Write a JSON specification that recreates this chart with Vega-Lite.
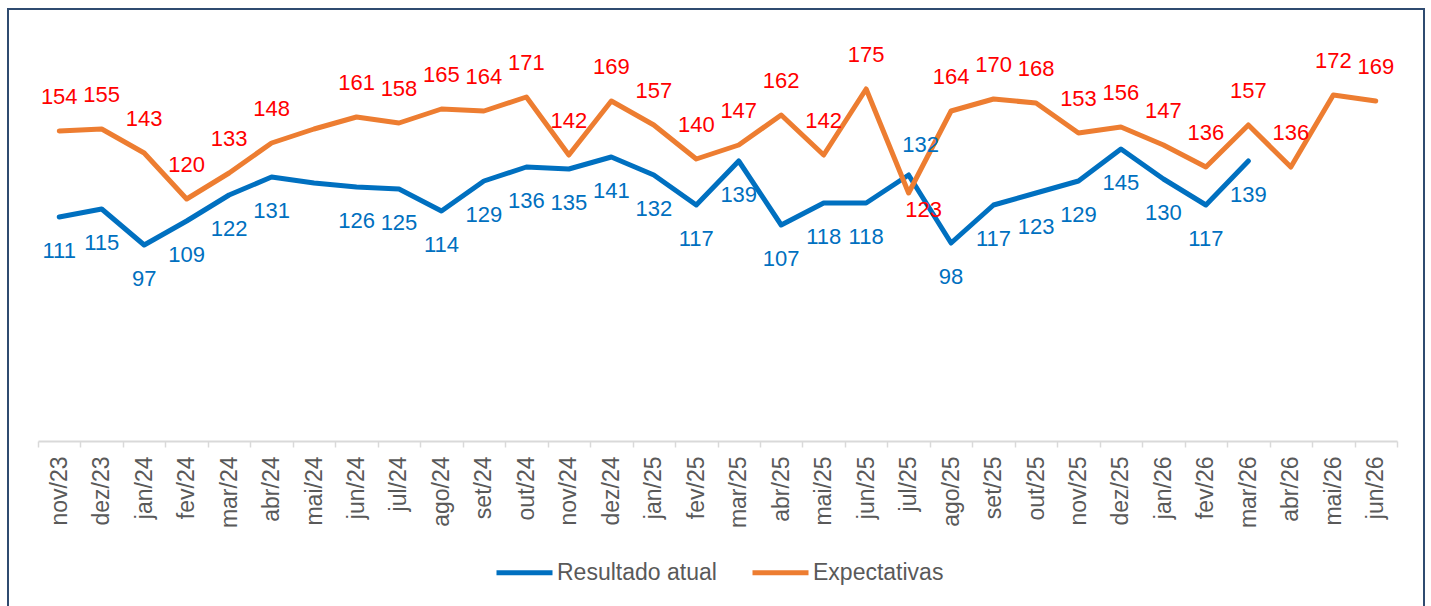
{
  "$schema": "https://vega.github.io/schema/vega-lite/v6.json",
  "width": 1416,
  "height": 600,
  "autosize": {"type": "none"},
  "padding": {"left": 8, "top": 9, "right": 7, "bottom": -3},
  "background": "white",
  "config": {
    "view": {"stroke": "#2F4B70", "strokeWidth": 2},
    "font": "Liberation Sans"
  },
  "data": {
    "values": [
      {"mes": "nov/23", "serie": "Resultado atual", "valor": 111}, {"mes": "nov/23", "serie": "Expectativas", "valor": 154},
      {"mes": "dez/23", "serie": "Resultado atual", "valor": 115}, {"mes": "dez/23", "serie": "Expectativas", "valor": 155},
      {"mes": "jan/24", "serie": "Resultado atual", "valor": 97}, {"mes": "jan/24", "serie": "Expectativas", "valor": 143},
      {"mes": "fev/24", "serie": "Resultado atual", "valor": 109}, {"mes": "fev/24", "serie": "Expectativas", "valor": 120},
      {"mes": "mar/24", "serie": "Resultado atual", "valor": 122}, {"mes": "mar/24", "serie": "Expectativas", "valor": 133},
      {"mes": "abr/24", "serie": "Resultado atual", "valor": 131}, {"mes": "abr/24", "serie": "Expectativas", "valor": 148},
      {"mes": "mai/24", "serie": "Resultado atual", "valor": 128}, {"mes": "mai/24", "serie": "Expectativas", "valor": 155},
      {"mes": "jun/24", "serie": "Resultado atual", "valor": 126}, {"mes": "jun/24", "serie": "Expectativas", "valor": 161},
      {"mes": "jul/24", "serie": "Resultado atual", "valor": 125}, {"mes": "jul/24", "serie": "Expectativas", "valor": 158},
      {"mes": "ago/24", "serie": "Resultado atual", "valor": 114}, {"mes": "ago/24", "serie": "Expectativas", "valor": 165},
      {"mes": "set/24", "serie": "Resultado atual", "valor": 129}, {"mes": "set/24", "serie": "Expectativas", "valor": 164},
      {"mes": "out/24", "serie": "Resultado atual", "valor": 136}, {"mes": "out/24", "serie": "Expectativas", "valor": 171},
      {"mes": "nov/24", "serie": "Resultado atual", "valor": 135}, {"mes": "nov/24", "serie": "Expectativas", "valor": 142},
      {"mes": "dez/24", "serie": "Resultado atual", "valor": 141}, {"mes": "dez/24", "serie": "Expectativas", "valor": 169},
      {"mes": "jan/25", "serie": "Resultado atual", "valor": 132}, {"mes": "jan/25", "serie": "Expectativas", "valor": 157},
      {"mes": "fev/25", "serie": "Resultado atual", "valor": 117}, {"mes": "fev/25", "serie": "Expectativas", "valor": 140},
      {"mes": "mar/25", "serie": "Resultado atual", "valor": 139}, {"mes": "mar/25", "serie": "Expectativas", "valor": 147},
      {"mes": "abr/25", "serie": "Resultado atual", "valor": 107}, {"mes": "abr/25", "serie": "Expectativas", "valor": 162},
      {"mes": "mai/25", "serie": "Resultado atual", "valor": 118}, {"mes": "mai/25", "serie": "Expectativas", "valor": 142},
      {"mes": "jun/25", "serie": "Resultado atual", "valor": 118}, {"mes": "jun/25", "serie": "Expectativas", "valor": 175},
      {"mes": "jul/25", "serie": "Resultado atual", "valor": 132}, {"mes": "jul/25", "serie": "Expectativas", "valor": 123},
      {"mes": "ago/25", "serie": "Resultado atual", "valor": 98}, {"mes": "ago/25", "serie": "Expectativas", "valor": 164},
      {"mes": "set/25", "serie": "Resultado atual", "valor": 117}, {"mes": "set/25", "serie": "Expectativas", "valor": 170},
      {"mes": "out/25", "serie": "Resultado atual", "valor": 123}, {"mes": "out/25", "serie": "Expectativas", "valor": 168},
      {"mes": "nov/25", "serie": "Resultado atual", "valor": 129}, {"mes": "nov/25", "serie": "Expectativas", "valor": 153},
      {"mes": "dez/25", "serie": "Resultado atual", "valor": 145}, {"mes": "dez/25", "serie": "Expectativas", "valor": 156},
      {"mes": "jan/26", "serie": "Resultado atual", "valor": 130}, {"mes": "jan/26", "serie": "Expectativas", "valor": 147},
      {"mes": "fev/26", "serie": "Resultado atual", "valor": 117}, {"mes": "fev/26", "serie": "Expectativas", "valor": 136},
      {"mes": "mar/26", "serie": "Resultado atual", "valor": 139}, {"mes": "mar/26", "serie": "Expectativas", "valor": 157},
      {"mes": "abr/26", "serie": "Expectativas", "valor": 136},
      {"mes": "mai/26", "serie": "Expectativas", "valor": 172},
      {"mes": "jun/26", "serie": "Expectativas", "valor": 169}
    ]
  },
  "encoding": {
    "x": {
      "field": "mes",
      "type": "ordinal",
      "sort": ["nov/23","dez/23","jan/24","fev/24","mar/24","abr/24","mai/24","jun/24","jul/24","ago/24","set/24","out/24","nov/24","dez/24","jan/25","fev/25","mar/25","abr/25","mai/25","jun/25","jul/25","ago/25","set/25","out/25","nov/25","dez/25","jan/26","fev/26","mar/26","abr/26","mai/26","jun/26"],
      "bandPosition": 0.5,
      "scale": {"type": "band", "range": [30, 1389], "paddingInner": 0, "paddingOuter": 0},
      "axis": {
        "title": null,
        "labelAngle": 270,
        "labelFontSize": 23,
        "labelFont": "Liberation Sans",
        "labelColor": "#595959",
        "labelPadding": 9,
        "tickSize": 6,
        "tickColor": "#D9D9D9",
        "tickWidth": 1.5,
        "domainColor": "#D9D9D9",
        "domainWidth": 2,
        "tickBand": "extent",
        "grid": false,
        "offset": -168
      }
    },
    "y": {
      "field": "valor",
      "type": "quantitative",
      "scale": {"domain": [0, 200], "range": [430, 30], "nice": false},
      "axis": null
    }
  },
  "layer": [
    {
      "mark": {"type": "line", "strokeWidth": 5, "strokeCap": "round", "strokeJoin": "round"},
      "encoding": {
        "color": {
          "field": "serie",
          "type": "nominal",
          "scale": {"domain": ["Resultado atual", "Expectativas"], "range": ["#0070C0", "#ED7D31"]},
          "legend": {
            "orient": "none",
            "legendX": 486,
            "legendY": 533,
            "direction": "horizontal",
            "title": null,
            "symbolType": "stroke",
            "symbolSize": 3136,
            "symbolStrokeWidth": 5,
            "labelFontSize": 23,
            "labelFont": "Liberation Sans",
            "labelColor": "#595959",
            "labelOffset": 2,
            "columnPadding": 25,
            "labelLimit": 0
          }
        }
      }
    },
    {
      "transform": [{"filter": "datum.serie === 'Resultado atual' && datum.mes !== 'mai/24' && datum.mes !== 'jul/25'"}],
      "mark": {"type": "text", "dy": 34, "fontSize": 22, "color": "#0070C0", "baseline": "middle"},
      "encoding": {"text": {"field": "valor", "type": "quantitative"}}
    },
    {
      "transform": [{"filter": "datum.serie === 'Expectativas' && datum.mes !== 'mai/24' && datum.mes !== 'jul/25'"}],
      "mark": {"type": "text", "dy": -34, "fontSize": 22, "color": "#FF0000", "baseline": "middle"},
      "encoding": {"text": {"field": "valor", "type": "quantitative"}}
    },
    {
      "transform": [{"filter": "datum.serie === 'Resultado atual' && datum.mes === 'jul/25'"}],
      "mark": {"type": "text", "dy": -30, "dx": 12, "fontSize": 22, "color": "#0070C0", "baseline": "middle"},
      "encoding": {"text": {"field": "valor", "type": "quantitative"}}
    },
    {
      "transform": [{"filter": "datum.serie === 'Expectativas' && datum.mes === 'jul/25'"}],
      "mark": {"type": "text", "dy": 17, "dx": 15, "fontSize": 22, "color": "#FF0000", "baseline": "middle"},
      "encoding": {"text": {"field": "valor", "type": "quantitative"}}
    }
  ]
}
